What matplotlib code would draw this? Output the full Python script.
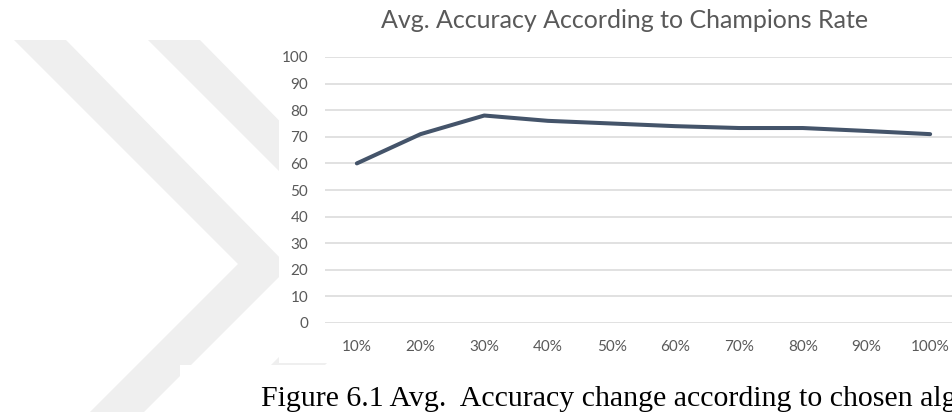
import matplotlib.pyplot as plt
from matplotlib.patches import Polygon, Rectangle

rates = ['10%', '20%', '30%', '40%', '50%', '60%', '70%', '80%', '90%', '100%']
accuracy = [60, 71, 78, 76, 75, 74, 73.3, 73.3, 72.2, 71]
yticks = [0, 10, 20, 30, 40, 50, 60, 70, 80, 90, 100]

title = 'Avg. Accuracy According to Champions Rate'
caption = 'Figure 6.1 Avg.  Accuracy change according to chosen algorithm'

W, H = 952, 412
fig = plt.figure(figsize=(W / 100, H / 100), dpi=100)
fig.patch.set_facecolor('white')

# background chevrons (pixel coords, y measured from top)
bg = fig.add_axes([0, 0, 1, 1], zorder=0)
bg.set_xlim(0, W)
bg.set_ylim(H, 0)
bg.axis('off')
grey = '#EFEFEF'
for dx in (0, 134):
    pts = [(14 + dx, 40), (66 + dx, 40), (289 + dx, 267), (144 + dx, 412),
           (90 + dx, 412), (238 + dx, 264)]
    bg.add_patch(Polygon(pts, closed=True, fc=grey, ec='none'))
# white boxes of the chart and the caption
bg.add_patch(Rectangle((279, 0), W - 279, 363, fc='white', ec='none'))
bg.add_patch(Rectangle((180, 365), W - 180, H - 365, fc='white', ec='none'))

ax = fig.add_axes([325 / W, (H - 323) / H, 637 / W, 266 / H], zorder=1)
ax.patch.set_alpha(0)
x = list(range(len(rates)))
ax.plot(x, accuracy, color='#44546A', lw=2.9, solid_capstyle='round',
        solid_joinstyle='round', zorder=3)
ax.set_xlim(-0.5, len(rates) - 0.5)
ax.set_ylim(0, 100)
ax.set_yticks(yticks)
ax.set_xticks(x)
ax.set_xticklabels(rates)
ax.grid(axis='y', color='#D9D9D9', lw=1.1)
ax.set_axisbelow(True)
for s in ax.spines.values():
    s.set_visible(False)
ax.tick_params(length=0, labelsize=11, labelcolor='#595959', pad=12,
               labelfontfamily='Lato')
ax.tick_params(axis='x', pad=12)

fig.text(625 / W, 1 - 20 / H, title, ha='center', va='center',
         fontsize=18, color='#595959', family='Lato')
fig.text(261 / W, 1 - 399 / H, caption, ha='left', va='center',
         fontsize=21.5, color='black', family='Liberation Serif')

fig.savefig('out.png', dpi=100)
